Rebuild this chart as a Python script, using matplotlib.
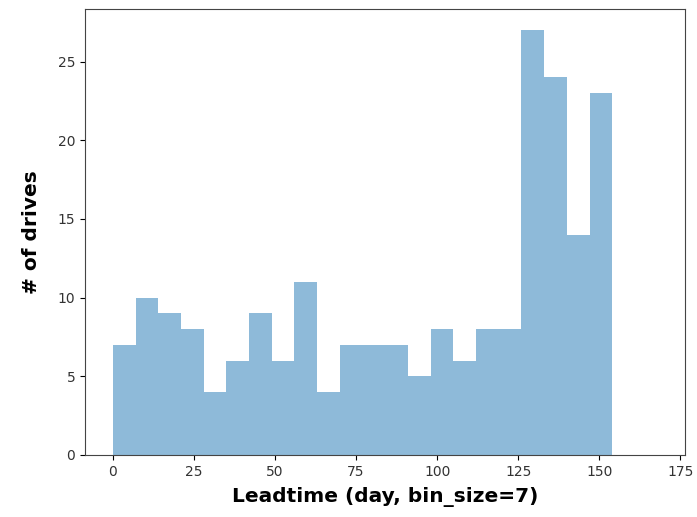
import numpy as np
import matplotlib
matplotlib.use("Agg")
import matplotlib.pyplot as plt

# histogram counts per 7-day bin
bin_size = 7
bin_edges = np.arange(0, 154 + bin_size, bin_size)
counts = [7, 10, 9, 8, 4, 6, 9, 6, 11, 4, 7, 7, 7, 5, 8, 6, 8, 8, 27, 24, 14, 23]

fig = plt.figure(figsize=(6.97, 5.17), dpi=100)
ax = fig.add_axes([0.122, 0.12, 0.861, 0.863])

ax.hist(bin_edges[:-1], bins=bin_edges, weights=counts, alpha=0.5)

ax.set_xlim(-8.6, 176.5)
ax.set_ylim(0, 28.35)
ax.set_xticks([0, 25, 50, 75, 100, 125, 150, 175])
ax.tick_params(labelsize=10, labelcolor="#333333")
for s in ax.spines.values():
    s.set_color("#444444")

ax.set_xlabel("Leadtime (day, bin_size=7)", fontsize=14.5, fontweight="bold", labelpad=6)
ax.set_ylabel("# of drives", fontsize=14.5, fontweight="bold", labelpad=12)

fig.savefig("out.png", dpi=100)
